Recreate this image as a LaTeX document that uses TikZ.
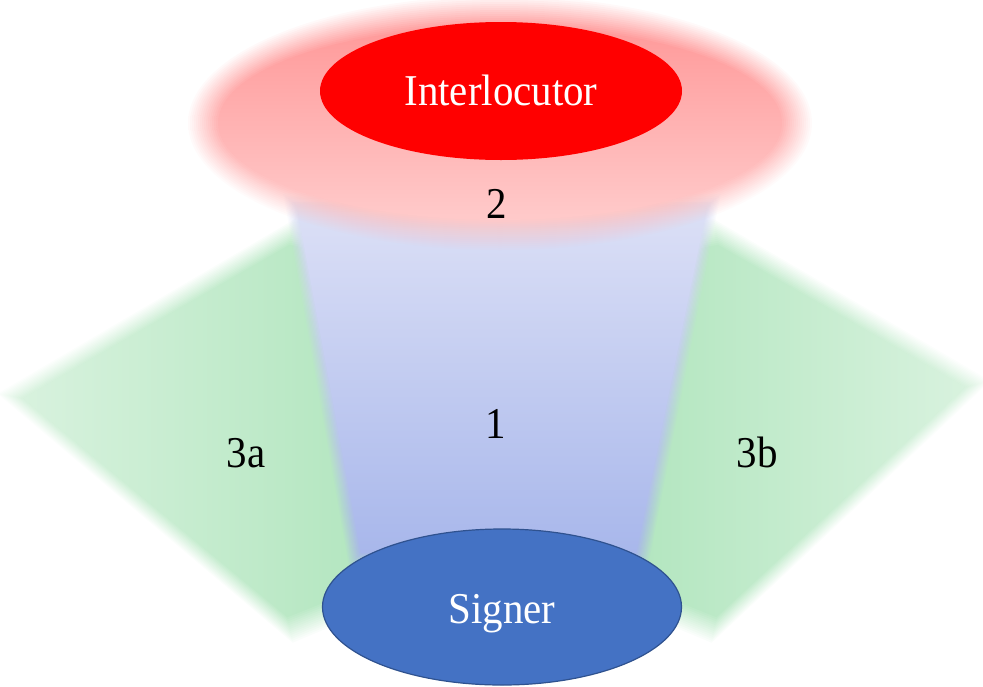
\documentclass[tikz,border=0pt]{standalone}
\usepackage{fontspec}
\setmainfont{Liberation Serif}[FakeStretch=0.93]
\usetikzlibrary{calc,shapes.geometric}
\definecolor{redTop}{HTML}{FF9A9A}
\definecolor{redBot}{HTML}{FFCACA}
\definecolor{blueTop}{HTML}{DCE0F6}
\definecolor{blueBot}{HTML}{A8B7EB}
\definecolor{greenIn}{HTML}{B0E5BD}
\definecolor{greenOut}{HTML}{D8F2DE}
\definecolor{signerFill}{HTML}{4472C4}
\definecolor{signerLine}{HTML}{2F528F}
\begin{document}
\begin{tikzpicture}[x=1pt,y=-1pt,
  lbl/.style={font=\fontsize{44}{50}\selectfont, inner sep=0pt, anchor=base},
  party/.style={ellipse, inner sep=0pt, font=\fontsize{44}{50}\selectfont, text=white}]
\useasboundingbox (0,0) rectangle (983,686);
% green zone 3a (its inner side runs on under zone 1)
\coordinate (GL1) at (292,232);
\coordinate (GL1b) at (326,238);
\coordinate (GL2) at (10,396);
\coordinate (GL3) at (290,630);
\coordinate (GL4) at (400,585);
\coordinate (GLC) at (250,440);
\foreach \o [count=\i, evaluate=\i as \a using 1/(15-\i)] in {-13,-11,...,13} {
  \shade[fill opacity=\a, left color=greenOut, right color=greenIn]
    ($(GL1)!\o pt!(GLC)$) -- ($(GL1b)!\o pt!(GLC)$) -- ($(GL4)!\o pt!(GLC)$) -- ($(GL3)!\o pt!(GLC)$) -- ($(GL2)!\o pt!(GLC)$) -- cycle;
}
% green zone 3b
\coordinate (GR1) at (716,232);
\coordinate (GR1b) at (682,238);
\coordinate (GR2) at (978,384);
\coordinate (GR3) at (714,630);
\coordinate (GR4) at (604,585);
\coordinate (GRC) at (750,440);
\foreach \o [count=\i, evaluate=\i as \a using 1/(15-\i)] in {-13,-11,...,13} {
  \shade[fill opacity=\a, left color=greenIn, right color=greenOut]
    ($(GR1)!\o pt!(GRC)$) -- ($(GR2)!\o pt!(GRC)$) -- ($(GR3)!\o pt!(GRC)$) -- ($(GR4)!\o pt!(GRC)$) -- ($(GR1b)!\o pt!(GRC)$) -- cycle;
}
% blue zone 1
\coordinate (BL1) at (290,200);
\coordinate (BR1) at (714,200);
\coordinate (BR2) at (642,560);
\coordinate (BL2) at (355,560);
\coordinate (BC) at (500,390);
\foreach \o [count=\i, evaluate=\i as \a using 1/(11-\i)] in {-9,-7,...,9} {
  \shade[fill opacity=\a, top color=blueTop, bottom color=blueBot]
    ($(BL1)!\o pt!(BC)$) -- ($(BR1)!\o pt!(BC)$) -- ($(BR2)!\o pt!(BC)$) -- ($(BL2)!\o pt!(BC)$) -- cycle;
}
% red zone 2
\foreach \o [count=\i, evaluate=\i as \a using 1/(17-\i), evaluate=\o as \rx using 297-\o, evaluate=\o as \ry using 112-\o] in {-15,-13,...,15} {
  \shade[fill opacity=\a, top color=redTop, bottom color=redBot]
    (500,123) ellipse [x radius=\rx, y radius=\ry];
}
% parties
\node[party, fill=red, minimum width=362pt, minimum height=138pt,
      text height=30pt, text depth=2pt] (interlocutor) at (501,91) {Interlocutor};
\node[party, fill=signerFill, draw=signerLine, line width=1.2pt,
      minimum width=359pt, minimum height=156pt,
      text height=36pt, text depth=4pt] (signer) at (502,607) {Signer};
% labels
\node[lbl] (n2) at (497,218) {2};
\node[lbl] (n1) at (496,438) {1};
\node[lbl] (n3a) at (246,467) {3a};
\node[lbl] (n3b) at (757,467) {3b};
\end{tikzpicture}
\end{document}
